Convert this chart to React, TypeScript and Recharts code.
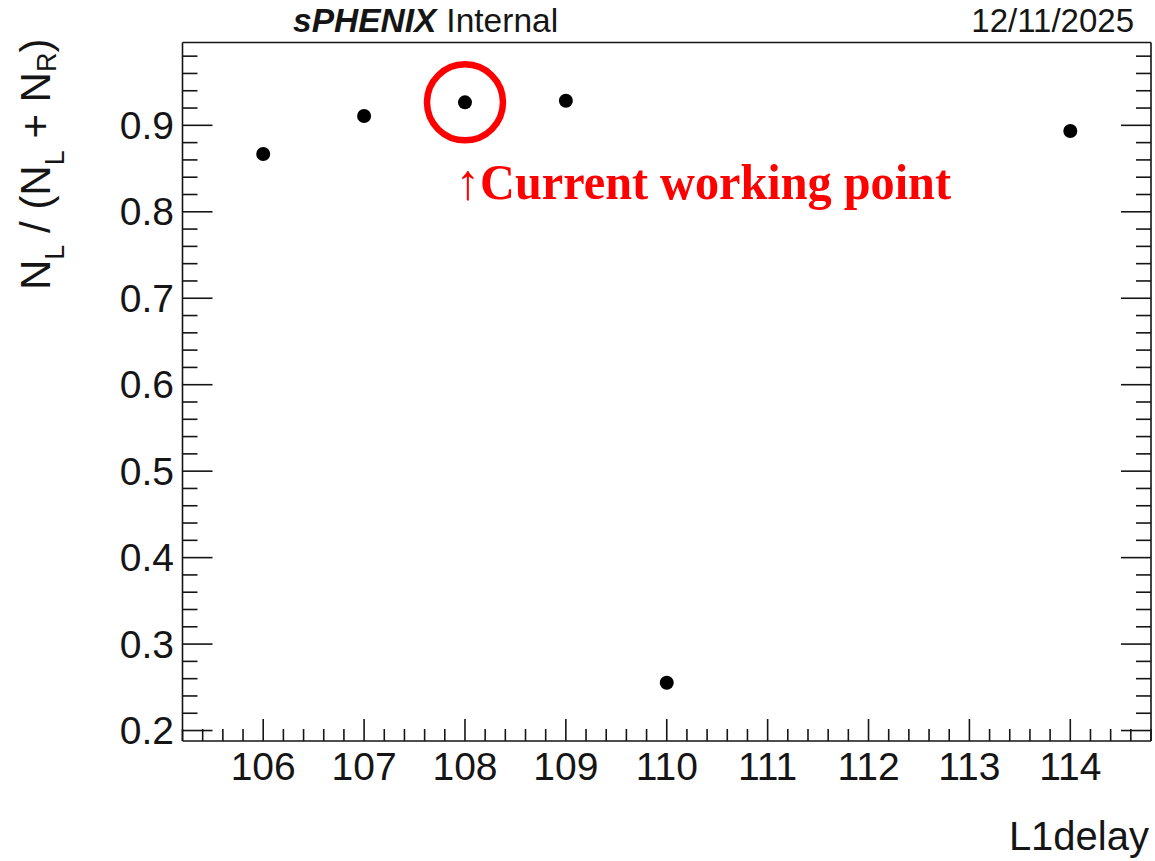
import React from 'react'
import {
  ScatterChart,
  Scatter,
  XAxis,
  YAxis,
  ReferenceDot,
  Customized
} from 'recharts'

// L1 delay scan, fraction of hits on the left side
const delays = [106, 107, 108, 109, 110, 114]
const fractions = [0.8668, 0.9108, 0.9266, 0.9285, 0.2552, 0.8934]

const xMajorTicks = [106, 107, 108, 109, 110, 111, 112, 113, 114]
const yMajorTicks = [0.2, 0.3, 0.4, 0.5, 0.6, 0.7, 0.8, 0.9]

const xDomain = [105.2, 114.8]
const yDomain = [0.1879, 0.9958]

const workingPoint = { delay: 108, fraction: 0.9266 }

const W = 1155
const H = 861
// axes take 1px each, rest is margin
const margin = { top: 41.5, right: 3, bottom: 119, left: 181.5 }

const ink = '#151515'
const sans = '"Liberation Sans", Arial, Helvetica, sans-serif'

// ROOT style subdivisions: 5 per major step
function subTicks(lo: number, hi: number, step: number) {
  const out: number[] = []
  const start = Math.ceil(lo / step - 1e-6)
  for (let k = start; k * step <= hi + 1e-9; k++) {
    out.push(Math.round(k * step * 10000) / 10000)
  }
  return out
}

const xTicks = subTicks(xDomain[0], xDomain[1], 0.2)
const yTicks = subTicks(yDomain[0], yDomain[1], 0.02)

const isMajor = (list: number[], v: number) => list.some((m) => Math.abs(m - v) < 1e-6)

const points = delays.map((d, i) => ({ delay: d, fraction: fractions[i] }))

const BottomTick = (props: any) => {
  const { x, y, payload } = props
  const major = isMajor(xMajorTicks, payload.value)
  return (
    <g>
      <line x1={x} x2={x} y1={y} y2={y - (major ? 22 : 12)} stroke={ink} strokeWidth={1.6} />
      {major && (
        <text x={x} y={y + 39} textAnchor="middle" fontSize={39} fontFamily={sans} fill={ink}>
          {payload.value}
        </text>
      )}
    </g>
  )
}

const TopTick = (props: any) => {
  const { x, y, payload } = props
  const major = isMajor(xMajorTicks, payload.value)
  return <line x1={x} x2={x} y1={y} y2={y + (major ? 20 : 11)} stroke={ink} strokeWidth={1.6} />
}

const LeftTick = (props: any) => {
  const { x, y, payload } = props
  const major = isMajor(yMajorTicks, payload.value)
  return (
    <g>
      <line x1={x} x2={x + (major ? 30 : 15)} y1={y} y2={y} stroke={ink} strokeWidth={1.6} />
      {major && (
        <text x={x - 8.5} y={y + 13.5} textAnchor="end" fontSize={39} fontFamily={sans} fill={ink}>
          {payload.value.toFixed(1)}
        </text>
      )}
    </g>
  )
}

const RightTick = (props: any) => {
  const { x, y, payload } = props
  const major = isMajor(yMajorTicks, payload.value)
  return <line x1={x} x2={x - (major ? 30 : 15)} y1={y} y2={y} stroke={ink} strokeWidth={1.6} />
}

const Dot = (props: any) => <circle cx={props.cx} cy={props.cy} r={7} fill="#000" />

const Annotations = () => (
  <g>
    <text x={293} y={32} fontSize={33.5} fontFamily={sans} fill={ink}>
      <tspan fontWeight="bold" fontStyle="italic">sPHENIX</tspan>
      <tspan dx={10}>Internal</tspan>
    </text>
    <text x={1134} y={32} fontSize={33} fontFamily={sans} fill={ink} textAnchor="end">
      12/11/2025
    </text>
    <text x={1149} y={850} fontSize={40} fontFamily={sans} fill={ink} textAnchor="end">
      L1delay
    </text>
    <text
      x={50}
      y={290}
      transform="rotate(-90, 50, 290)"
      fontSize={42}
      fontFamily={sans}
      fill={ink}
    >
      <tspan>N</tspan>
      <tspan fontSize={27} dy={14}>L</tspan>
      <tspan dy={-14}> / (N</tspan>
      <tspan fontSize={27} dy={14}>L</tspan>
      <tspan dy={-14}> + N</tspan>
      <tspan fontSize={27} dy={6}>R</tspan>
      <tspan dy={-6}>)</tspan>
    </text>
    <text
      x={456}
      y={199}
      fontSize={50}
      fontWeight="bold"
      fontFamily='"Liberation Serif", "Times New Roman", serif'
      fill="#ff0000"
      textLength={495}
      lengthAdjust="spacingAndGlyphs"
    >
      ↑Current working point
    </text>
  </g>
)

export default function App() {
  return (
    <div style={{ position: 'absolute', left: 0, top: 0, background: '#fff' }}>
      <ScatterChart width={W} height={H} margin={margin}>
        <XAxis
          xAxisId="bottom"
          dataKey="delay"
          type="number"
          domain={xDomain}
          ticks={xTicks}
          interval={0}
          height={1}
          tickSize={0}
          tickMargin={0}
          tick={<BottomTick />}
          axisLine={{ stroke: ink, strokeWidth: 1.6 }}
          tickLine={false}
          allowDataOverflow
        />
        <XAxis
          xAxisId="top"
          orientation="top"
          type="number"
          domain={xDomain}
          ticks={xTicks}
          interval={0}
          height={1}
          tickSize={0}
          tickMargin={0}
          tick={<TopTick />}
          axisLine={{ stroke: ink, strokeWidth: 1.6 }}
          tickLine={false}
          allowDataOverflow
        />
        <YAxis
          yAxisId="left"
          dataKey="fraction"
          type="number"
          domain={yDomain}
          ticks={yTicks}
          interval={0}
          width={1}
          tickSize={0}
          tickMargin={0}
          tick={<LeftTick />}
          axisLine={{ stroke: ink, strokeWidth: 1.6 }}
          tickLine={false}
          allowDataOverflow
        />
        <YAxis
          yAxisId="right"
          orientation="right"
          type="number"
          domain={yDomain}
          ticks={yTicks}
          interval={0}
          width={1}
          tickSize={0}
          tickMargin={0}
          tick={<RightTick />}
          axisLine={{ stroke: ink, strokeWidth: 1.6 }}
          tickLine={false}
          allowDataOverflow
        />
        <Scatter
          data={points}
          xAxisId="bottom"
          yAxisId="left"
          shape={<Dot />}
          isAnimationActive={false}
        />
        <ReferenceDot
          xAxisId="bottom"
          yAxisId="left"
          x={workingPoint.delay}
          y={workingPoint.fraction}
          r={38}
          fill="none"
          stroke="#ff0000"
          strokeWidth={6.5}
        />
        <Customized component={<Annotations />} />
      </ScatterChart>
    </div>
  )
}
